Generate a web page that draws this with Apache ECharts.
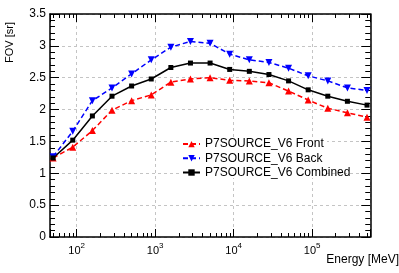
<!DOCTYPE html>
<html><head><meta charset="utf-8">
<script src="https://cdn.jsdelivr.net/npm/echarts@6/dist/echarts.min.js"></script>
<style>html,body{margin:0;padding:0;background:#fff}#c{width:399px;height:273px}</style>
</head><body><div id="c"></div>
<script>
// Data
const energies = [50.1, 89.1, 158.5, 281.8, 501.2, 891.3, 1585, 2818, 5012, 8913, 15849, 28184, 50119, 89125, 158489, 281838, 501187];
const front    = [1.24, 1.41, 1.67, 1.99, 2.14, 2.23, 2.43, 2.48, 2.50, 2.46, 2.45, 2.42, 2.29, 2.15, 2.02, 1.95, 1.88];
const back     = [1.26, 1.66, 2.14, 2.34, 2.56, 2.78, 2.98, 3.07, 3.04, 2.87, 2.78, 2.74, 2.65, 2.53, 2.45, 2.34, 2.30];
const combined = [1.24, 1.52, 1.90, 2.21, 2.37, 2.48, 2.66, 2.73, 2.73, 2.63, 2.60, 2.55, 2.45, 2.31, 2.21, 2.13, 2.07];
const seriesNames = ['P7SOURCE_V6 Front', 'P7SOURCE_V6 Back', 'P7SOURCE_V6 Combined'];
const xMin = 45.7, xMax = 551000;
const yMin = 0, yMax = 3.5, yInterval = 0.5;
const xTitle = 'Energy [MeV]';
const yTitle = 'FOV [sr]';

const FONT = '"Liberation Sans", Arial, Helvetica, sans-serif';
const pair = arr => arr.map((v, i) => [energies[i], v]);

function expLabel(v) {
  const l = Math.log10(v);
  const e = Math.round(l);
  if (Math.abs(l - e) > 1e-6) return '';
  return '{b|10}{e|' + e + '}';
}

const axisLineStyle = { color: '#000', width: 1.5 };
const gridLine = { show: true, lineStyle: { color: '#c4c4c4', width: 1, type: [3, 3] } };

const chart = echarts.init(document.getElementById('c'), null, { renderer: 'canvas' });
chart.setOption({
  animation: false,
  backgroundColor: '#fff',
  grid: { left: 50, right: 12, top: 14, bottom: 36, containLabel: false },
  xAxis: [
    {
      type: 'log', logBase: 10, min: xMin, max: xMax, position: 'bottom',
      axisLine: { show: true, onZero: false, lineStyle: axisLineStyle },
      axisTick: { show: true, inside: true, length: 8, lineStyle: { color: '#000', width: 1 } },
      minorTick: { show: true, splitNumber: 9, length: 4, lineStyle: { color: '#000', width: 1 } },
      splitLine: gridLine,
      axisLabel: {
        show: true, margin: 5, formatter: expLabel, showMinLabel: true, showMaxLabel: true,
        rich: {
          b: { fontSize: 11, fontFamily: FONT, color: '#000', lineHeight: 14, verticalAlign: 'bottom' },
          e: { fontSize: 8, fontFamily: FONT, color: '#000', lineHeight: 9, verticalAlign: 'top' }
        }
      },
      name: xTitle, nameLocation: 'end', nameGap: 8,
      nameTextStyle: { fontSize: 12, fontFamily: FONT, color: '#000', align: 'right', verticalAlign: 'top', padding: [17, 0, 0, 0] }
    },
    {
      type: 'log', logBase: 10, min: xMin, max: xMax, position: 'top',
      axisLine: { show: true, onZero: false, lineStyle: axisLineStyle },
      axisTick: { show: true, inside: true, length: 8, lineStyle: { color: '#000', width: 1 } },
      minorTick: { show: true, splitNumber: 9, length: 4, lineStyle: { color: '#000', width: 1 } },
      splitLine: { show: false },
      axisLabel: { show: false }
    }
  ],
  yAxis: [
    {
      type: 'value', min: yMin, max: yMax, interval: yInterval, position: 'left',
      axisLine: { show: true, onZero: false, lineStyle: axisLineStyle },
      axisTick: { show: true, inside: true, length: 9, lineStyle: { color: '#000', width: 1 } },
      minorTick: { show: true, splitNumber: 5, length: 5, lineStyle: { color: '#000', width: 1 } },
      splitLine: gridLine,
      axisLabel: { show: true, margin: 4, fontSize: 12, fontFamily: FONT, color: '#000' }
    },
    {
      type: 'value', min: yMin, max: yMax, interval: yInterval, position: 'right',
      axisLine: { show: true, onZero: false, lineStyle: axisLineStyle },
      axisTick: { show: true, inside: true, length: 9, lineStyle: { color: '#000', width: 1 } },
      minorTick: { show: true, splitNumber: 5, length: 5, lineStyle: { color: '#000', width: 1 } },
      splitLine: { show: false },
      axisLabel: { show: false }
    }
  ],
  legend: {
    orient: 'vertical', left: 182, top: 137, padding: 0, itemGap: 0,
    itemWidth: 17, itemHeight: 8,
    textStyle: { fontSize: 12, fontFamily: FONT, color: '#000', lineHeight: 14.2 },
    data: seriesNames, z: 10
  },
  graphic: [
    { type: 'rect', z: 5, shape: { x: 182, y: 137, width: 145, height: 41 }, style: { fill: '#fff' } },
    { type: 'text', z: 5, x: 4, y: 63, rotation: Math.PI / 2,
      style: { text: yTitle, font: '11px ' + FONT, fill: '#000', textAlign: 'left', textVerticalAlign: 'top' } }
  ],
  series: [
    {
      name: seriesNames[0], type: 'line', data: pair(front), xAxisIndex: 0, yAxisIndex: 0,
      symbol: 'triangle', symbolSize: 7, color: '#ff0000',
      lineStyle: { color: '#ff0000', width: 1.5, type: [5, 3] },
      itemStyle: { color: '#ff0000' }
    },
    {
      name: seriesNames[1], type: 'line', data: pair(back), xAxisIndex: 0, yAxisIndex: 0,
      symbol: 'triangle', symbolRotate: 180, symbolSize: 7, color: '#0000ff',
      lineStyle: { color: '#0000ff', width: 1.5, type: [5, 3] },
      itemStyle: { color: '#0000ff' }
    },
    {
      name: seriesNames[2], type: 'line', data: pair(combined), xAxisIndex: 0, yAxisIndex: 0,
      symbol: 'rect', symbolSize: 5, color: '#000000',
      lineStyle: { color: '#000000', width: 1.5, type: 'solid' },
      itemStyle: { color: '#000000' }
    }
  ]
});
</script>
</body></html>
